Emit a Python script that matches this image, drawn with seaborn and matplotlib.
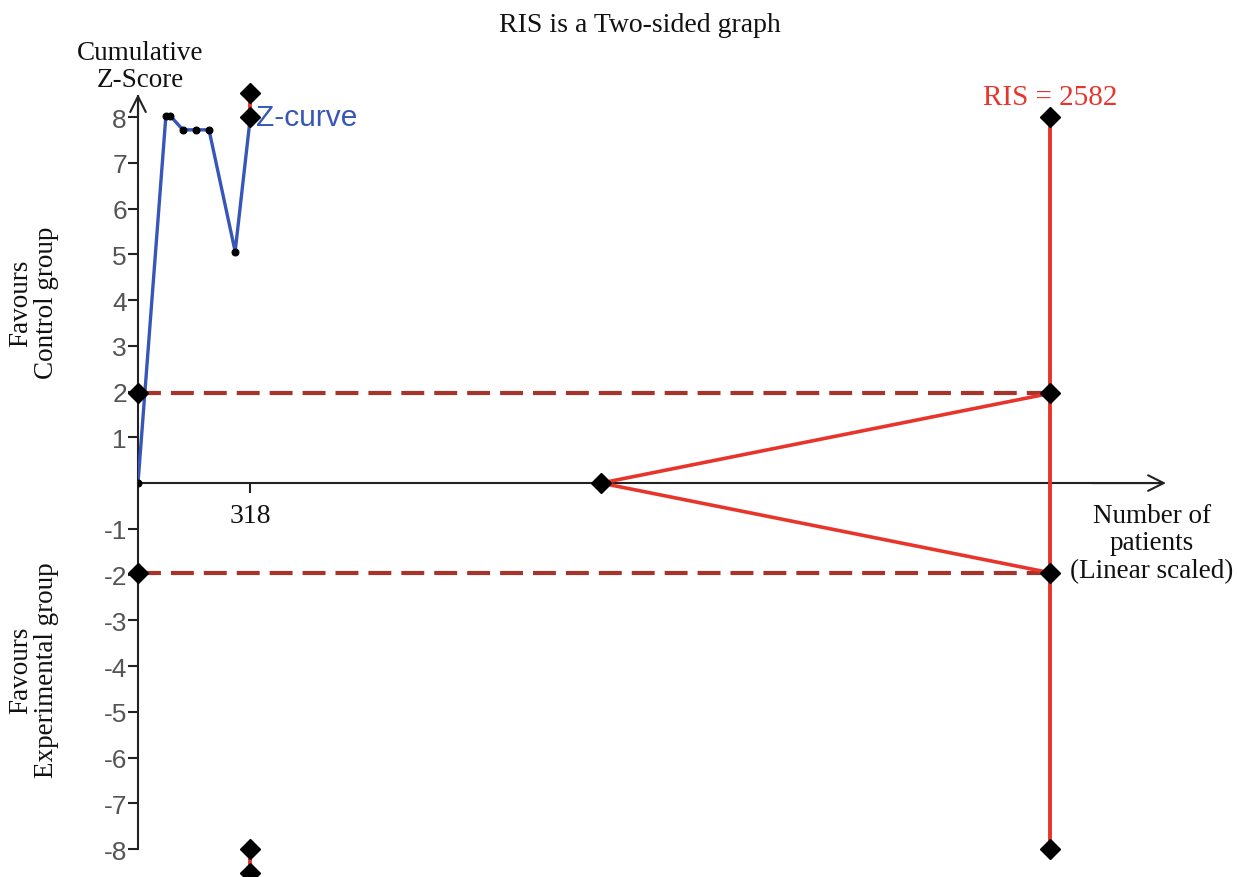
import numpy as np
import pandas as pd
import matplotlib
matplotlib.use("Agg")
import matplotlib.pyplot as plt
import seaborn as sns

# --- data ---
z_patients = [0, 79, 91, 127, 164, 201, 275, 318]
z_scores = [0, 8.03, 8.03, 7.72, 7.72, 7.72, 5.06, 8.0]

ris = 2582
sig_z = 1.96                      # conventional boundaries
z_cap = 8                         # plotted range of the boundaries
alpha_x = 318                     # alpha spending boundary point shown
alpha_z = 8.52                    # its value (beyond plotted range)
futility_x = [1311, ris]          # inner wedge
futility_z = [0, sig_z]
y_ticks = [-8, -7, -6, -5, -4, -3, -2, -1, 1, 2, 3, 4, 5, 6, 7, 8]
x_ticks = [318]

BLUE = "#3656b8"
RED = "#e8352b"
DARKRED = "#a6342b"
SERIF = "Liberation Serif"
SANS = "Liberation Sans"

sns.set_theme(style="white")
fig = plt.figure(figsize=(12.37, 8.78), dpi=100)
ax = fig.add_axes([138 / 1237, 0.0005, 1099 / 1237, 787 / 878])
ax.set_facecolor("white")

# conventional boundaries (dashed)
for sgn in (1, -1):
    ax.plot([0, ris], [sgn * sig_z] * 2, color=DARKRED, lw=3,
            dashes=(5.5, 2.4), zorder=2)

# futility wedge
for sgn in (1, -1):
    ax.plot(futility_x, [sgn * z for z in futility_z], color=RED, lw=2.6, zorder=3)

# RIS vertical line
ax.plot([ris, ris], [-z_cap, z_cap], color=RED, lw=2.8, zorder=3)

# alpha spending boundary at 318
for sgn in (1, -1):
    ax.plot([alpha_x, alpha_x], [sgn * z_cap, sgn * alpha_z], color=RED, lw=2.8,
            zorder=3, clip_on=False)

# Z-curve
df = pd.DataFrame({"patients": z_patients, "z": z_scores})
sns.lineplot(data=df, x="patients", y="z", sort=False, estimator=None, ax=ax,
             color=BLUE, lw=2.4, marker="o", markersize=5,
             markerfacecolor="black", markeredgecolor="black", zorder=4)

# diamonds
dia_x = [0, 0, ris, ris, ris, ris, futility_x[0], alpha_x, alpha_x, alpha_x, alpha_x]
dia_y = [sig_z, -sig_z, sig_z, -sig_z, z_cap, -z_cap, 0,
         z_cap, alpha_z, -z_cap, -alpha_z]
ax.plot(dia_x, dia_y, ls="none", marker="D", markersize=10, color="black",
        zorder=5, clip_on=False)

# axes through the origin
ax.set_xlim(0, 3111)
ax.set_ylim(-8.6, 8.6)
ax.set_xlabel("")
ax.set_ylabel("")
for s in ["top", "right"]:
    ax.spines[s].set_visible(False)
ax.spines["left"].set_position(("data", 0))
ax.spines["bottom"].set_position(("data", 0))
ax.spines["left"].set_bounds(-8, 8.45)
ax.spines["bottom"].set_bounds(0, 2900)
for s in ["left", "bottom"]:
    ax.spines[s].set_color("#222222")
    ax.spines[s].set_linewidth(1.5)
arrow = dict(arrowstyle="->", lw=1.5, color="#222222", mutation_scale=28,
             shrinkA=0, shrinkB=0)
ax.annotate("", xy=(0, 8.5), xytext=(0, 8.0), arrowprops=arrow)
ax.annotate("", xy=(2910, 0), xytext=(2700, 0), arrowprops=arrow)

ax.set_yticks(y_ticks)
ax.set_yticklabels([str(t) for t in y_ticks], fontfamily=SANS)
ax.tick_params(axis="y", direction="out", length=7, width=1.5, color="#222222",
               labelsize=19, labelcolor="#555555", pad=1, left=True)
ax.set_xticks(x_ticks)
ax.set_xticklabels([str(t) for t in x_ticks], fontfamily=SERIF)
ax.tick_params(axis="x", direction="out", length=7, width=1.5, color="#222222",
               labelsize=20, labelcolor="#111111", pad=7, bottom=True)

# texts
ax.text(335, 8.0, "Z-curve", color=BLUE, fontsize=21.5, fontfamily=SANS,
        va="center", ha="left")
ax.text(ris, 8.44, "RIS = 2582", color=RED, fontsize=21, fontfamily=SERIF,
        va="center", ha="center")


def fx(px):
    return px / 1237


def fy(py):
    return 1 - py / 878


fig.text(fx(640), fy(26), "RIS is a Two-sided graph", fontsize=20,
         fontfamily=SERIF, ha="center", va="center", color="#111111")
fig.text(fx(140), fy(67), "Cumulative\nZ-Score", fontsize=19.5, fontfamily=SERIF,
         ha="center", va="center", linespacing=1.1, color="#111111")
fig.text(fx(34), fy(303), "Favours\nControl group", fontsize=19.5,
         fontfamily=SERIF, ha="center", va="center", rotation=90,
         linespacing=1.05, color="#111111")
fig.text(fx(34), fy(670), "Favours\nExperimental group", fontsize=19.5,
         fontfamily=SERIF, ha="center", va="center", rotation=90,
         linespacing=1.05, color="#111111")
fig.text(fx(1152), fy(544), "Number of\npatients\n(Linear scaled)", fontsize=19.5,
         fontfamily=SERIF, ha="center", va="center", linespacing=1.15,
         color="#111111")

fig.savefig("out.png", dpi=100)
